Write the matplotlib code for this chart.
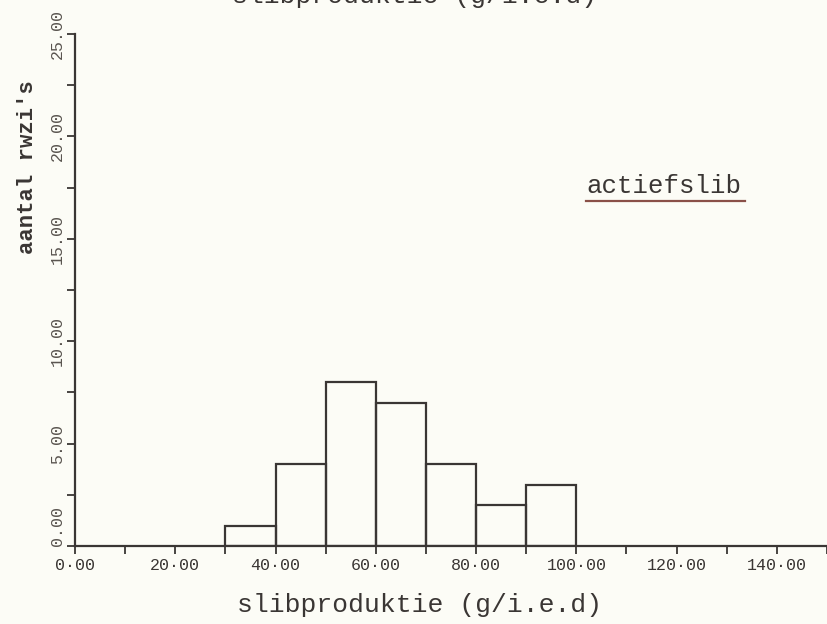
import matplotlib
matplotlib.use("Agg")
import matplotlib.pyplot as plt
from matplotlib.ticker import MultipleLocator

# histogram: bin left edges (g/i.e.d) and number of plants per bin
bin_left = [30, 40, 50, 60, 70, 80, 90]
counts = [1, 4, 8, 7, 4, 2, 3]
bin_width = 10

x_ticks = [0, 20, 40, 60, 80, 100, 120, 140]
x_ticklabels = ["0·00", "20·00", "40·00", "60·00", "80·00", "100·00", "120·00", "140·00"]
y_ticks = [0, 5, 10, 15, 20, 25]
y_ticklabels = ["0.00", "5.00", "10.00", "15.00", "20.00", "25.00"]

bg = "#fcfcf6"
ink = "#3a3634"
font = ["Liberation Mono", "DejaVu Sans Mono"]

fig = plt.figure(figsize=(8.27, 6.24), dpi=100, facecolor=bg)
ax = fig.add_axes([75 / 827, 1 - 546 / 624, 752 / 827, 512 / 624])
ax.set_facecolor(bg)

ax.bar(bin_left, counts, width=bin_width, align="edge",
       facecolor="none", edgecolor=ink, linewidth=1.6)

ax.set_xlim(0, 150)
ax.set_ylim(0, 25)
for s in ["top", "right"]:
    ax.spines[s].set_visible(False)
for s in ["left", "bottom"]:
    ax.spines[s].set_color(ink)
    ax.spines[s].set_linewidth(1.6)

ax.set_xticks(x_ticks)
ax.set_xticklabels(x_ticklabels, family=font, fontsize=12, color=ink)
ax.xaxis.set_minor_locator(MultipleLocator(10))
ax.set_yticks(y_ticks)
ax.set_yticklabels(y_ticklabels, family=font, fontsize=12, color="#5a5550",
                   rotation=90, va="center")
ax.yaxis.set_minor_locator(MultipleLocator(2.5))
ax.tick_params(which="both", direction="out", length=6, width=1.3, color=ink)
ax.tick_params(axis="x", pad=3)
ax.tick_params(axis="y", pad=1.5)
# the 0.00 on the y axis sits a little above the corner in the scan
ax.get_yticklabels()[0].set_va("bottom")

fig.text(28 / 827, 1 - 167 / 624, "aantal rwzi's", rotation=90,
         ha="center", va="center", family=font, fontsize=16,
         color=ink, fontweight="bold")
fig.text(420 / 827, 1 - 605 / 624, "slibproduktie (g/i.e.d)",
         ha="center", va="center", family=font, fontsize=19, color=ink)
# title, mostly cut off by the top edge of the scan
fig.text(415 / 827, 1 - 3 / 624, "slibproduktie (g/i.e.d)",
         ha="center", va="baseline", family=font, fontsize=19, color=ink)

ax.text(102, 17.24, "actiefslib", ha="left", va="baseline",
        family=font, fontsize=18.5, color=ink)
ax.plot([102, 133.6], [16.85, 16.85], color="#8a5048", linewidth=1.6,
        clip_on=False)

fig.savefig("out.png", dpi=100, facecolor=bg)
